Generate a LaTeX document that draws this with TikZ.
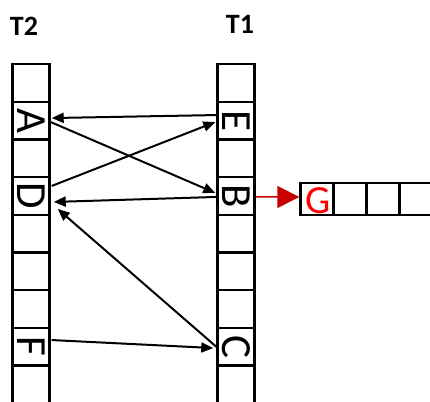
\documentclass[tikz,border=0pt]{standalone}
\usepackage{fontspec}
\setmainfont{Carlito}
\usetikzlibrary{arrows.meta,calc}
\definecolor{linkred}{RGB}{200,0,0}
\definecolor{textred}{RGB}{255,0,0}
\begin{document}
\begin{tikzpicture}[x=1pt,y=-1pt,
  slot/.style={draw=black,line width=2.4pt,minimum width=37pt,minimum height=37.7pt,inner sep=0pt},
  gslot/.style={draw=black,line width=2.4pt,minimum width=33pt,minimum height=32pt,inner sep=0pt},
  letter/.style={inner sep=0pt,rotate=-90,font=\fontsize{43}{43}\selectfont},
  link/.style={line width=2pt,-{Triangle[length=12pt,width=10pt]}},
  head/.style={font=\bfseries\fontsize{28}{28}\selectfont}]
\useasboundingbox (0,0) rectangle (430,401);
\clip (0,0) rectangle (430,401);
\fill[white] (0,0) rectangle (430,401);

% column headings
\node[head] (T2) at (24,26) {T2};
\node[head] (T1) at (240,24) {T1};

% the two slot columns
\foreach \k in {0,...,8}{
  \node[slot] (L\k) at (31,{82.85+37.7*\k}) {};
  \node[slot] (R\k) at (236,{82.85+37.7*\k}) {};
}

% rotated entries
\node[letter] (A) at (L1) {A};
\node[letter] (D) at (L3) {D};
\node[letter] (F) at (L7) {F};
\node[letter] (E) at (R1) {E};
\node[letter] (B) at (R3) {B};
\node[letter] (C) at (R7) {C};

% overflow row
\node[gslot] (G1) at (317,199) {};
\node[gslot] (G2) at (350.5,199) {};
\node[gslot] (G3) at (383,199) {};
\node[gslot] (G4) at (415.5,199) {};
\node[inner sep=0pt,text=textred,font=\fontsize{40}{40}\selectfont] (G) at ($(G1)+(1,1.5)$) {G};

% links between the columns
\draw[link] ($(R1.west)+(0,-5.5)$) -- ($(L1.east)+(1,-2.5)$);
\draw[link] ($(L1.east)+(0,1.5)$) -- ($(R3.west)+(-1,-3)$);
\draw[link] ($(L3.east)+(1,-10)$) -- ($(R1.west)+(-1,1.5)$);
\draw[link] ($(R3.west)+(0,1)$) -- ($(L3.east)+(3,6)$);
\draw[link] (R7.west) -- ($(L3.east)+(7,13)$);
\draw[link] ($(L7.east)+(1,-6.7)$) -- ($(R7.west)+(-3,1.3)$);

% link to the overflow row
\draw[linkred,line width=1.5pt,-{Triangle[length=22pt,width=22pt]}]
  ($(R3.east)+(0,1)$) -- ($(G1.west)+(0,-2)$);
\end{tikzpicture}
\end{document}
